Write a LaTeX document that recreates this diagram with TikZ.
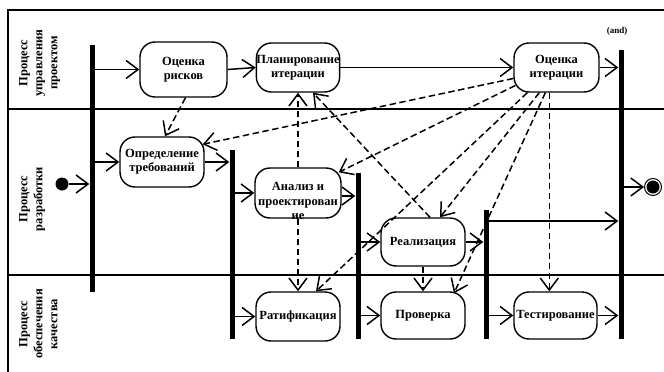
\documentclass[tikz,border=0pt]{standalone}
\usepackage{fontspec}
\setmainfont{Liberation Serif}
\usetikzlibrary{arrows.meta}
\begin{document}
\begin{tikzpicture}[x=1pt,y=-1pt,
  act/.style={draw, line width=1.4pt, rounded corners=15pt, minimum width=84pt, minimum height=49pt, inner sep=0pt, align=center, font=\bfseries\fontsize{12.5}{14}\selectfont},
  txt/.style={inner sep=0pt, align=center, font=\bfseries\fontsize{12.5}{14.5}\selectfont},
  bar/.style={fill=black, draw=none, minimum width=5pt, inner sep=0pt},
  flow/.style={line width=1.5pt, -{Straight Barb[length=12pt,width=18pt,line width=1.5pt]}},
  dep/.style={flow, dash pattern=on 6.5pt off 3.5pt},
  lane/.style={rotate=90, anchor=north, align=center, inner sep=0pt, font=\bfseries\fontsize{12.5}{15}\selectfont},
  sep/.style={line width=1.5pt}
]
\useasboundingbox (0,0) rectangle (664,372);
% frame and swimlanes
\draw[line width=2pt] (8,372) -- (8,10) -- (664,10);
\draw[sep] (8,109) -- (664,109);
\draw[sep] (8,275) -- (664,275);
\node[lane] (l1) at (19,63) {Процесс\\управления\\проектом};
\node[lane] (l2) at (19,199) {Процесс\\разработки};
\node[lane] (l3) at (19,324) {Процесс\\обеспечения\\качества};
\node[font=\bfseries\fontsize{9}{10}\selectfont, inner sep=0pt] (andlbl) at (617,31) {(and)};

% bars
\node[bar, minimum height=247pt] (bA) at (92,168.5) {};
\node[bar, minimum height=189pt] (bB) at (232,244.5) {};
\node[bar, minimum height=166pt] (bC) at (358,256) {};
\node[bar, minimum height=129pt] (bD) at (486,274.5) {};
\node[bar, minimum height=289pt] (bE) at (621,194.5) {};

% activities
\node[act, minimum width=87pt, minimum height=55pt] (riski) at (183.5,69.5) {Оценка\\рисков};
\node[act, minimum width=81pt] (plan) at (298,67.5) {Планирование\\итерации};
\node[act, minimum width=85pt] (oi) at (556.5,67.5) {Оценка\\итерации};
\node[act, minimum height=50pt] (opr) at (162,162) {Определение\\требований};
\node[act, minimum width=86pt, minimum height=50pt] (an) at (298,193) {};
\node[txt] (anT) at (298,201) {Анализ и\\проектирован\\ие};
\node[act, minimum height=48pt] (real) at (423,242) {Реализация};
\node[act] (rat) at (298,316.5) {Ратификация};
\node[act, minimum height=47pt] (prov) at (423,315.5) {Проверка};
\node[act, minimum width=83pt, minimum height=47pt] (test) at (555.5,315.5) {Тестирование};

% initial / final
\node[circle, fill=black, minimum size=13pt, inner sep=0pt] (init) at (62,184) {};
\node[circle, draw, line width=1pt, minimum size=17pt, inner sep=0pt,
  path picture={\fill[black] (path picture bounding box.center) circle (6.5pt);}] (fin) at (653,187) {};
\coordinate (yDE) at (550,221);
\coordinate (anE) at ([yshift=-3pt]an.east);

% control flows
\draw[flow] (init) -- (bA.west |- init);
\draw[flow] (bA.east |- riski.west) -- (riski.west);
\draw[flow] (bA.east |- opr.west) -- (opr.west);
\draw[flow] (riski.east) -- (plan.west);
\draw[flow] (plan.east) -- (oi.west);
\draw[flow] (oi.east) -- (bE.west |- oi.east);
\draw[flow] (opr.east) -- (bB.west |- opr.east);
\draw[flow] (bB.east |- an.west) -- (an.west);
\draw[flow] (bB.east |- rat.west) -- (rat.west);
\draw[flow] (anE) -- (bC.west |- anE);
\draw[flow] (bC.east |- real.west) -- (real.west);
\draw[flow] (bC.east |- prov.west) -- (prov.west);
\draw[flow] (real.east) -- (bD.west |- real.east);
\draw[flow] (bD.east |- yDE) -- (bE.west |- yDE);
\draw[flow] (bD.east |- test.west) -- (test.west);
\draw[flow] (test.east) -- (bE.west |- test.east);
\draw[flow] (bE.east |- fin) -- (fin.west);

% dependencies (dashed)
\draw[dep] ([xshift=2pt]riski.south) -- ([xshift=3pt]opr.north);
\draw[dep] ([yshift=-11pt]oi.west) -- ([xshift=-2pt,yshift=-8pt]opr.north east);
\draw[dep] ([xshift=2pt,yshift=-18pt]oi.west) -- ([xshift=-3pt,yshift=-5pt]an.north east);
\draw[dep] ([xshift=14pt]oi.south west) -- ([xshift=18pt]rat.north);
\draw[dep] ([xshift=26pt]oi.south west) -- ([xshift=17pt]real.north);
\draw[dep] ([xshift=32pt]oi.south west) -- ([xshift=31pt,yshift=-2pt]prov.north);
\draw[dep] ([xshift=36pt]oi.south west) -- ([xshift=36pt]oi.south west |- test.north);
\draw[dep] ([xshift=7pt]real.north) -- ([xshift=15pt]plan.south);
\draw[dep] (an.north) -- (an.north |- plan.south);
\draw[dep] (an.south) -- (an.south |- rat.north);
\draw[dep] (real.south) -- (real.south |- prov.north);
\end{tikzpicture}
\end{document}
